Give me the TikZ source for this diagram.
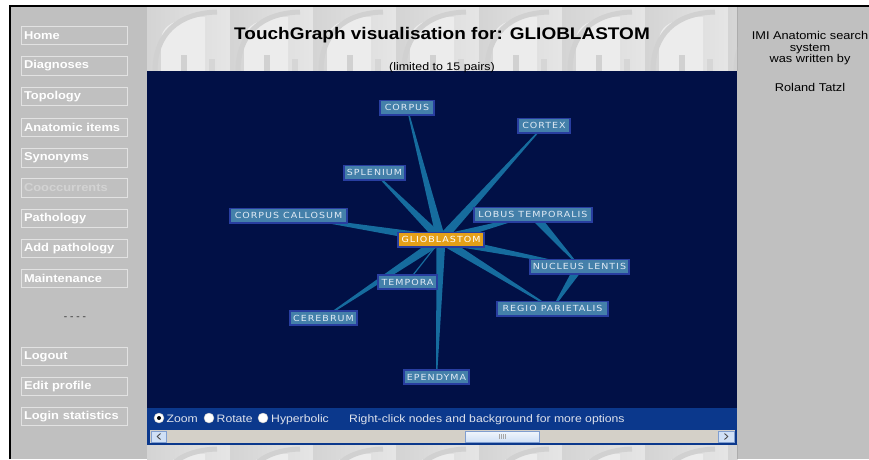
\documentclass[tikz,border=0pt]{standalone}
\usepackage{fontspec}
\setmainfont[FakeStretch=1.13]{Liberation Sans}
\newfontfamily\nodefont[LetterSpace=12,FakeStretch=1.13]{DejaVu Sans}
\usetikzlibrary{calc}
\definecolor{panelgray}{RGB}{192,192,192}
\definecolor{navy}{RGB}{1,16,70}
\definecolor{ctrlblue}{RGB}{11,56,140}
\definecolor{nodefill}{RGB}{68,128,170}
\definecolor{nodeborder}{RGB}{40,62,160}
\definecolor{nodetext}{RGB}{225,235,245}
\definecolor{glioorange}{RGB}{228,160,24}
\definecolor{edgeblue}{RGB}{22,108,158}
\definecolor{track}{RGB}{212,208,200}
\definecolor{btnline}{RGB}{226,226,226}
\definecolor{ctrltext}{RGB}{222,226,236}
\definecolor{thumbfill}{RGB}{208,224,246}
\definecolor{thumbline}{RGB}{128,158,208}
\pgfdeclarelayer{bg}
\pgfdeclarelayer{edges}
\pgfsetlayers{bg,edges,main}
\newcommand\tgedge[3][4.5pt]{%
  \fill[edgeblue] ($(#2.center)!#1!90:(#3.center)$) -- ($(#3.center)!0.5pt!-90:(#2.center)$)
    -- ($(#3.center)!0.5pt!90:(#2.center)$) -- ($(#2.center)!#1!-90:(#3.center)$) -- cycle;}
\tikzset{
  tg/.style={draw=nodeborder, line width=1.6pt, fill=nodefill, text=nodetext,
    font=\nodefont\fontsize{8.4}{9}\selectfont, minimum height=14.4pt, inner sep=0pt},
  tgglio/.style={tg, fill=glioorange, text=white},
  menubtn/.style={draw=btnline, line width=0.9pt, minimum width=106pt, minimum height=18.5pt,
    inner sep=0pt, text width=100pt, align=left, text=white,
    font=\bfseries\fontsize{11.4}{12}\selectfont},
  ctrl/.style={anchor=base west, inner sep=0pt, text=ctrltext, font=\fontsize{10.8}{12}\selectfont},
  radio/.style={circle, fill=white, draw=gray!50, line width=0.4pt, minimum size=10pt, inner sep=0pt},
  rtext/.style={anchor=base, inner sep=0pt, font=\fontsize{11.3}{12}\selectfont},
  tile/.pic={
    \fill[left color=gray!34, right color=gray!20] (0,0) rectangle (83,64);
    \fill[gray!15] (14,64) -- (14,34) .. controls (14,16) and (34,10) .. (58,10) -- (58,64) -- cycle;
    \draw[gray!36, line width=5pt] (8,64) .. controls (8,28) and (30,6) .. (70,5);
    \fill[gray!36] (34,48) rectangle (40,64);
    \fill[gray!32] (62,52) rectangle (68,64);
  }
}
\begin{document}
\begin{tikzpicture}[x=1pt,y=-1pt]
\useasboundingbox (0,0) rectangle (869,459);
\begin{pgfonlayer}{bg}
  \fill[white] (0,0) rectangle (869,459);
  \fill[panelgray] (10,6) rectangle (869,459);
  \begin{scope}
    \clip (147,7) rectangle (737,71);
    \foreach \i in {0,...,7} { \pic at ({147+83*\i},7) {tile}; }
  \end{scope}
  \begin{scope}
    \clip (147,444) rectangle (737,459);
    \foreach \i in {0,...,7} { \pic at ({147+83*\i},444) {tile}; }
  \end{scope}
  \fill[navy] (147,71) rectangle (737,408);
  \fill[ctrlblue] (147,408) rectangle (737,444.5);
  \fill[track] (150,430) rectangle (735,443);
  \draw[black, line width=2pt] (10,459) -- (10,6) -- (869,6);
\end{pgfonlayer}

% graph nodes
\node[tg, minimum width=54.4pt] (corpus) at (407,107.5) {CORPUS};
\node[tg, minimum width=52.4pt] (cortex) at (544,125.5) {CORTEX};
\node[tg, minimum width=61.4pt] (splenium) at (374.5,172.5) {SPLENIUM};
\node[tg, minimum width=117.4pt] (callosum) at (288.5,215.5) {CORPUS CALLOSUM};
\node[tgglio, minimum width=86.4pt] (glio) at (441,239.5) {GLIOBLASTOM};
\node[tg, minimum width=118.4pt] (lobus) at (533,214.5) {LOBUS TEMPORALIS};
\node[tg, minimum width=99.4pt] (nucleus) at (579.5,266.5) {NUCLEUS LENTIS};
\node[tg, minimum width=111.4pt] (regio) at (552.5,308.5) {REGIO PARIETALIS};
\node[tg, minimum width=59.4pt] (tempora) at (407.5,282) {TEMPORA};
\node[tg, minimum width=67.4pt] (cerebrum) at (323.5,318) {CEREBRUM};
\node[tg, minimum width=65.4pt] (ependyma) at (436.5,377) {EPENDYMA};

\begin{pgfonlayer}{edges}
  \foreach \t in {corpus,cortex,splenium,callosum,lobus,nucleus,regio,cerebrum,ependyma}
    {\tgedge{glio}{\t}}
  \tgedge{lobus}{nucleus}
  \tgedge{nucleus}{regio}
  \draw[edgeblue, line width=1.2pt] (glio.center) -- (tempora.center);
\end{pgfonlayer}

% title
\node[anchor=base, inner sep=0pt, font=\bfseries\fontsize{16.8}{18}\selectfont] (title) at (442,39)
  {TouchGraph visualisation for: GLIOBLASTOM};
\node[anchor=base, inner sep=0pt, font=\fontsize{11}{12}\selectfont] (subtitle) at (442,70) {(limited to 15 pairs)};

% right panel
\node[rtext] (rp1) at (810,39) {IMI Anatomic search};
\node[rtext] (rp2) at (810,51) {system};
\node[rtext] (rp3) at (810,62) {was written by};
\node[rtext] (rp4) at (810,91) {Roland Tatzl};

% menu
\node[menubtn] (mHome) at (74,35.5) {Home};
\node[menubtn] (mDiag) at (74,66) {Diagnoses};
\node[menubtn] (mTopo) at (74,96.5) {Topology};
\node[menubtn] (mAnat) at (74,127.5) {Anatomic items};
\node[menubtn] (mSyn) at (74,158) {Synonyms};
\node[menubtn, text=btnline!85!gray] (mCooc) at (74,188) {Cooccurrents};
\node[menubtn] (mPath) at (74,218.5) {Pathology};
\node[menubtn] (mAdd) at (74,248.5) {Add pathology};
\node[menubtn] (mMaint) at (74,278.5) {Maintenance};
\node[inner sep=0pt, text=gray!70!black, font=\bfseries\fontsize{9}{10}\selectfont] (dots) at (75,318) {- - - -};
\node[menubtn] (mLogout) at (74,356.5) {Logout};
\node[menubtn] (mEdit) at (74,386.5) {Edit profile};
\node[menubtn] (mLogin) at (74,416.5) {Login statistics};

% control bar
\node[radio] (rZoom) at (159,418) {};
\fill[black] (rZoom.center) circle (2pt);
\node[ctrl] (tZoom) at (166.5,422) {Zoom};
\node[radio] (rRot) at (209,418) {};
\node[ctrl] (tRot) at (216.5,422) {Rotate};
\node[radio] (rHyp) at (263,418) {};
\node[ctrl] (tHyp) at (271,422) {Hyperbolic};
\node[ctrl] (tHelp) at (349,422) {Right-click nodes and background for more options};

% scrollbar
\node[draw=thumbline, fill=thumbfill, line width=0.5pt, minimum width=15pt, minimum height=11pt, inner sep=0pt] (sLeft) at (159,436.5) {};
\draw[black!70, line width=0.9pt] ($(sLeft.center)+(1.5,-3)$) -- ($(sLeft.center)+(-1.8,0)$) -- ($(sLeft.center)+(1.5,3)$);
\node[draw=thumbline, fill=thumbfill, line width=0.5pt, minimum width=16pt, minimum height=11pt, inner sep=0pt] (sRight) at (726,436.5) {};
\draw[black!70, line width=0.9pt] ($(sRight.center)+(-1.5,-3)$) -- ($(sRight.center)+(1.8,0)$) -- ($(sRight.center)+(-1.5,3)$);
\node[draw=thumbline, top color=white!70!thumbfill, bottom color=thumbfill, line width=0.5pt, minimum width=74pt, minimum height=11pt, inner sep=0pt] (sThumb) at (502,436.5) {};
\foreach \dx in {-3,-1,1,3}
  \draw[gray!70, line width=0.5pt] ($(sThumb.center)+(\dx,-2.5)$) -- ($(sThumb.center)+(\dx,2.5)$);
\end{tikzpicture}
\end{document}
